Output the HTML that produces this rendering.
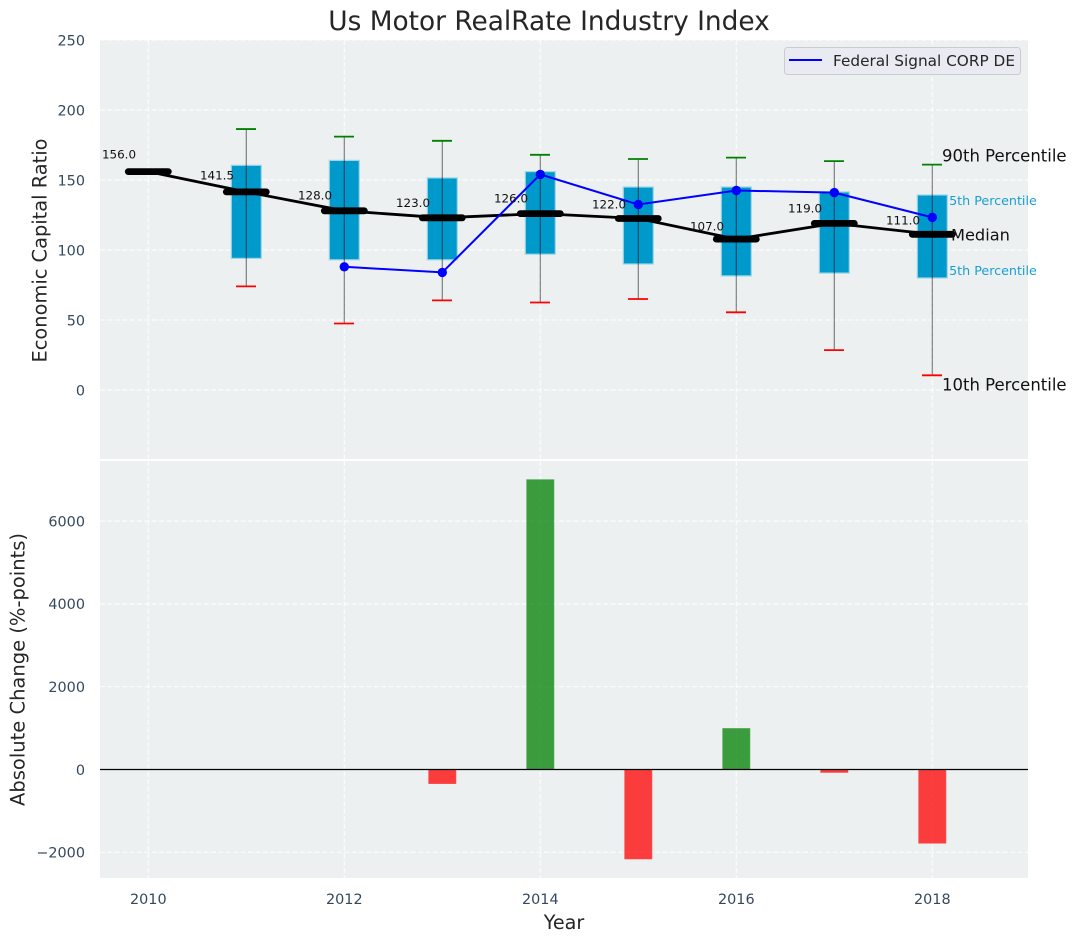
<!DOCTYPE html>
<html>
<head>
<meta charset="utf-8">
<title>Us Motor RealRate Industry Index</title>
<style>
html,body{margin:0;padding:0;background:#fff;}
svg{display:block;font-family:"DejaVu Sans","Liberation Sans",sans-serif;}
</style>
</head>
<body>
<svg id="chart" xmlns="http://www.w3.org/2000/svg" width="1077" height="942" viewBox="0 0 1077 942">
  <rect x="0" y="0" width="1077" height="942" fill="#ffffff"/>
  <rect x="100" y="40" width="928" height="419" fill="#ecf0f1"/>
  <rect x="100" y="461" width="928" height="417" fill="#ecf0f1"/>
  <g id="grid"></g>
  <g id="tick-labels"></g>
  <text x="549" y="30" text-anchor="middle" font-size="26.4" fill="#262626">Us Motor RealRate Industry Index</text>
  <text transform="translate(46.5,250.5) rotate(-90)" text-anchor="middle" font-size="19.4" fill="#262626">Economic Capital Ratio</text>
  <text transform="translate(24.5,669.5) rotate(-90)" text-anchor="middle" font-size="19.5" fill="#262626">Absolute Change (%-points)</text>
  <text x="564" y="929" text-anchor="middle" font-size="19.2" fill="#262626">Year</text>
  <text id="label-p75" x="941" font-size="12.7" fill="#1a9fcf">75th Percentile</text>
  <text id="label-p25" x="941" font-size="12.7" fill="#1a9fcf">25th Percentile</text>
  <g id="boxes"></g>
  <g id="median-line"></g>
  <g id="company-line"></g>
  <g id="median-labels"></g>
  <text id="label-p90" x="942" font-size="16.5" fill="#111111">90th Percentile</text>
  <text id="label-median" x="951" font-size="16.2" fill="#111111">Median</text>
  <text id="label-p10" x="942" font-size="16.5" fill="#111111">10th Percentile</text>
  <g id="bars"></g>
  <line id="zero-line" x1="100" x2="1028" stroke="#000000" stroke-width="1.3"/>
  <g>
    <rect x="784.5" y="47.5" width="236" height="27" rx="3" fill="#eaeaf2" stroke="#cccccc"/>
    <line x1="789" x2="822" y1="60" y2="60" stroke="#0000ff" stroke-width="2"/>
    <text x="833" y="66" font-size="15.3" fill="#262626">Federal Signal CORP DE</text>
  </g>
</svg>
<script>
const years = [2010, 2011, 2012, 2013, 2014, 2015, 2016, 2017, 2018];
const medians = [156, 141.5, 128, 123, 126, 122.5, 107.8, 119, 111.2];
const medianLabels = ["156.0", "141.5", "128.0", "123.0", "126.0", "122.0", "107.0", "119.0", "111.0"];
const p90 = [null, 186.4, 181, 178, 168, 165, 166, 163.5, 161];
const p75 = [null, 160.5, 164, 151.5, 156, 145, 145, 141.5, 139.3];
const p25 = [null, 94, 93, 93, 97, 90, 81.5, 83.5, 80];
const p10 = [null, 74, 47.5, 64, 62.5, 65, 55.5, 28.5, 10.5];
const company = [null, null, 88, 84, 154, 132.5, 142.5, 141, 123.3];
const changes = [null, null, null, -350, 7010, -2170, 1000, -80, -1790];
const xTicks = [2010, 2012, 2014, 2016, 2018];
const topYTicks = [0, 50, 100, 150, 200, 250];
const bottomYTicks = [-2000, 0, 2000, 4000, 6000];

const NS = "http://www.w3.org/2000/svg";
function xPos(v) { return 148.3 + (v - 2010) * 98; }
function yTop(v) { return 390 - v * 1.4; }
function yBottom(v) { return 769.5 - v * 0.0414; }
function make(tag, parent, attrs) {
  const el = document.createElementNS(NS, tag);
  for (const k in attrs) el.setAttribute(k, attrs[k]);
  parent.appendChild(el);
  return el;
}
const gridG = document.getElementById("grid");
const tickG = document.getElementById("tick-labels");
const gridStyle = { stroke: "#ffffff", "stroke-width": 1.2, "stroke-dasharray": "5 2.4", "stroke-opacity": 0.85 };

xTicks.forEach(function (t) {
  const a = make("line", gridG, Object.assign({ x1: xPos(t), x2: xPos(t), y1: 40, y2: 459 }, gridStyle));
  
  
  const b = make("line", gridG, Object.assign({ x1: xPos(t), x2: xPos(t), y1: 461, y2: 878 }, gridStyle));
  
  
  const l = make("text", tickG, { x: xPos(t), y: 904, "text-anchor": "middle", "font-size": 14.4, fill: "#34495e" });
  l.textContent = String(t);
  
  
});
topYTicks.forEach(function (t) {
  const a = make("line", gridG, Object.assign({ x1: 100, x2: 1028, y1: yTop(t), y2: yTop(t) }, gridStyle));
  
  
  const l = make("text", tickG, { x: 85, y: yTop(t) + 5.3, "text-anchor": "end", "font-size": 14.4, fill: "#34495e" });
  l.textContent = String(t);
  
  
});
bottomYTicks.forEach(function (t) {
  const a = make("line", gridG, Object.assign({ x1: 100, x2: 1028, y1: yBottom(t), y2: yBottom(t) }, gridStyle));
  
  
  const l = make("text", tickG, { x: 85, y: yBottom(t) + 5.3, "text-anchor": "end", "font-size": 14.4, fill: "#34495e" });
  l.textContent = String(t).replace("-", "\u2212");
  
  
});

const boxG = document.getElementById("boxes");
years.forEach(function (yr, i) {
  if (p75[i] === null) return;
  const cx = xPos(yr);
  const box = make("rect", boxG, { x: cx - 15, y: yTop(p75[i]), width: 30, height: yTop(p25[i]) - yTop(p75[i]), fill: "#0099cc", stroke: "#9fd6e8", "stroke-width": 1.2 });
  
  
  const w = make("line", boxG, { x1: cx, x2: cx, y1: yTop(p90[i]), y2: yTop(p10[i]), stroke: "#000000", "stroke-opacity": 0.48, "stroke-width": 1.2 });
  
  
  const capHigh = make("line", boxG, { x1: cx - 10.3, x2: cx + 9.7, y1: yTop(p90[i]), y2: yTop(p90[i]), stroke: "#008000", "stroke-width": 1.8 });
  
  
  const capLow = make("line", boxG, { x1: cx - 10.3, x2: cx + 9.7, y1: yTop(p10[i]), y2: yTop(p10[i]), stroke: "#ff0000", "stroke-width": 1.8 });
  
  
});

const medG = document.getElementById("median-line");
const medPath = make("polyline", medG, {
  points: years.map(function (yr, i) { return xPos(yr) + "," + yTop(medians[i]); }).join(" "),
  fill: "none", stroke: "#000000", "stroke-width": 2.8
});


const labelG = document.getElementById("median-labels");
years.forEach(function (yr, i) {
  const cx = xPos(yr), cy = yTop(medians[i]);
  const m = make("line", medG, { x1: cx - 20, x2: cx + 20, y1: cy, y2: cy, stroke: "#000000", "stroke-width": 6.8, "stroke-linecap": "round" });
  
  
  const t = make("text", labelG, { x: cx - 29.3, y: yTop(Number(medianLabels[i]) * 1.05) - 2.4, "text-anchor": "middle", "font-size": 11.9, fill: "#111111" });
  t.textContent = medianLabels[i];
  
  
});

const compG = document.getElementById("company-line");
const compPts = [];
years.forEach(function (yr, i) {
  if (company[i] !== null) compPts.push(xPos(yr) + "," + yTop(company[i]));
});
const compLine = make("polyline", compG, { points: compPts.join(" "), fill: "none", stroke: "#0000ff", "stroke-width": 2 });


years.forEach(function (yr, i) {
  if (company[i] === null) return;
  const c = make("circle", compG, { cx: xPos(yr), cy: yTop(company[i]), r: 4.7, fill: "#0000ff" });
  
  
});

const barG = document.getElementById("bars");
years.forEach(function (yr, i) {
  if (changes[i] === null) return;
  const v = changes[i];
  const y0 = yBottom(Math.max(v, 0)), y1 = yBottom(Math.min(v, 0));
  const r = make("rect", barG, { x: xPos(yr) - 14, y: y0, width: 28, height: y1 - y0, fill: v >= 0 ? "#008000" : "#ff0000", "fill-opacity": 0.75, stroke: "#ffffff", "stroke-opacity": 0.2, "stroke-width": 1 });
  
  
});

const zero = document.getElementById("zero-line");
zero.setAttribute("y1", yBottom(0));
zero.setAttribute("y2", yBottom(0));

const last = years.length - 1;
document.getElementById("label-p90").setAttribute("y", yTop(p90[last]) - 3);
document.getElementById("label-p75").setAttribute("y", yTop(p75[last]) + 10);
document.getElementById("label-median").setAttribute("y", yTop(medians[last]) + 6);
document.getElementById("label-p25").setAttribute("y", yTop(p25[last]) - 3);
document.getElementById("label-p10").setAttribute("y", yTop(p10[last]) + 15);
</script>
</body>
</html>
